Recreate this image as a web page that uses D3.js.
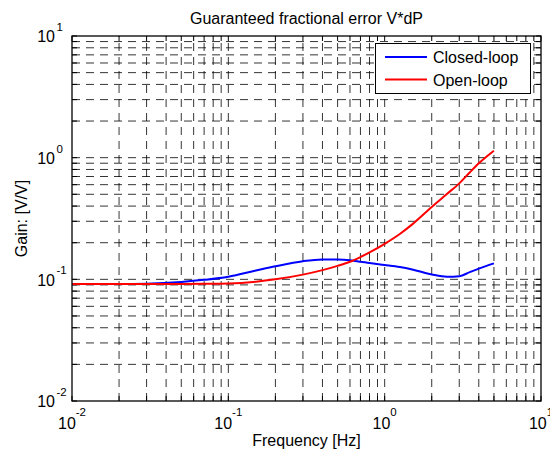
<!DOCTYPE html>
<html>
<head>
<meta charset="utf-8">
<script src="https://cdn.jsdelivr.net/npm/d3@7"></script>
<style>
  html, body { margin: 0; padding: 0; background: #fff; }
  svg { display: block; }
  text { font-family: "Liberation Sans", Arial, Helvetica, sans-serif; fill: #000; }
</style>
</head>
<body>
<svg id="chart" width="550" height="453"></svg>
<script>
// ---- Data ----
const title = "Guaranteed fractional error V*dP";
const xLabel = "Frequency [Hz]";
const yLabel = "Gain: [V/V]";
const seriesNames = ["Closed-loop", "Open-loop"];
const seriesColors = ["#0000ff", "#ff0000"];

const freq = [0.01, 0.02, 0.03, 0.05, 0.07, 0.1, 0.15, 0.2, 0.3, 0.4, 0.5, 0.6, 0.7, 0.8, 1.0, 1.25, 1.5, 2.0, 2.5, 3.0, 3.5, 4.0, 5.0];
const closedLoop = [0.0915, 0.0915, 0.0921, 0.0952, 0.0990, 0.1050, 0.1180, 0.1280, 0.1410, 0.1456, 0.1455, 0.1435, 0.1397, 0.1360, 0.1312, 0.1262, 0.1205, 0.1097, 0.1050, 0.1060, 0.1145, 0.1225, 0.1353];
const openLoop   = [0.0915, 0.0915, 0.0915, 0.0917, 0.0920, 0.0925, 0.0956, 0.1000, 0.1093, 0.1190, 0.1290, 0.1394, 0.1525, 0.1665, 0.1960, 0.2360, 0.2830, 0.3940, 0.5030, 0.6150, 0.7560, 0.8980, 1.1400];

const xTickExps = [-2, -1, 0, 1];
const yTickExps = [-2, -1, 0, 1];

// ---- Layout ----
const L = 72, R = 541, T = 36, B = 401;
const svg = d3.select("#chart");

const x = d3.scaleLog().domain([0.01, 10]).range([L, R]);
const y = d3.scaleLog().domain([0.01, 10]).range([B, T]);

// minor + major grid values
const gridVals = [];
for (let e = -2; e <= 0; e++) {
  for (let m = 1; m <= 9; m++) gridVals.push(m * Math.pow(10, e));
}
gridVals.push(10);

// grid lines
const grid = svg.append("g").attr("class", "grid")
  .attr("stroke", "#000").attr("stroke-width", 0.8).attr("stroke-dasharray", "8,6");
grid.selectAll("line.v").data(gridVals.filter(v => v > 0.01 && v < 10)).join("line")
  .attr("class", "v")
  .attr("x1", d => x(d)).attr("x2", d => x(d))
  .attr("y1", B).attr("y2", T);
grid.selectAll("line.h").data(gridVals.filter(v => v > 0.01 && v < 10)).join("line")
  .attr("class", "h")
  .attr("y1", d => y(d)).attr("y2", d => y(d))
  .attr("x1", L).attr("x2", R);

// ticks inside on all four sides
const tl = 5;
const ticks = svg.append("g").attr("stroke", "#000").attr("stroke-width", 1);
gridVals.forEach(v => {
  ticks.append("line").attr("x1", x(v)).attr("x2", x(v)).attr("y1", B).attr("y2", B - tl);
  ticks.append("line").attr("x1", x(v)).attr("x2", x(v)).attr("y1", T).attr("y2", T + tl);
  ticks.append("line").attr("y1", y(v)).attr("y2", y(v)).attr("x1", L).attr("x2", L + tl);
  ticks.append("line").attr("y1", y(v)).attr("y2", y(v)).attr("x1", R).attr("x2", R - tl);
});

// curves
const line = d3.line().x(d => x(d[0])).y(d => y(d[1])).curve(d3.curveMonotoneX);
[closedLoop, openLoop].forEach((vals, i) => {
  svg.append("path")
    .datum(freq.map((f, k) => [f, vals[k]]))
    .attr("fill", "none")
    .attr("stroke", seriesColors[i])
    .attr("stroke-width", 2)
    .attr("d", line);
});

// frame
svg.append("rect").attr("x", L).attr("y", T).attr("width", R - L).attr("height", B - T)
  .attr("fill", "none").attr("stroke", "#000").attr("stroke-width", 1.3);

// x tick labels
xTickExps.forEach(e => {
  const t = svg.append("text").attr("x", x(Math.pow(10, e))).attr("y", 429)
    .attr("text-anchor", "middle").attr("font-size", 16);
  t.append("tspan").text("10");
  t.append("tspan").attr("dy", -13).attr("font-size", 11.5).text(String(e));
});

// y tick labels
yTickExps.forEach(e => {
  const yy = y(Math.pow(10, e));
  svg.append("text").attr("x", 55).attr("y", yy + 6.3)
    .attr("text-anchor", "end").attr("font-size", 16).text("10");
  svg.append("text").attr("x", 56.5).attr("y", yy - 5)
    .attr("text-anchor", "start").attr("font-size", 11.5).text(String(e));
});

// title and axis labels
svg.append("text").attr("x", (L + R) / 2).attr("y", 24)
  .attr("text-anchor", "middle").attr("font-size", 16).text(title);
svg.append("text").attr("x", (L + R) / 2).attr("y", 446)
  .attr("text-anchor", "middle").attr("font-size", 16).text(xLabel);
svg.append("text").attr("transform", `translate(27,${(T + B) / 2}) rotate(-90)`)
  .attr("text-anchor", "middle").attr("font-size", 16).text(yLabel);

// legend
const lg = svg.append("g");
lg.append("rect").attr("x", 375.5).attr("y", 43.5).attr("width", 155).attr("height", 50)
  .attr("fill", "#fff").attr("stroke", "#000").attr("stroke-width", 1);
seriesNames.forEach((name, i) => {
  const ly = 57 + i * 22.5;
  lg.append("line").attr("x1", 385).attr("x2", 427).attr("y1", ly).attr("y2", ly)
    .attr("stroke", seriesColors[i]).attr("stroke-width", 2);
  lg.append("text").attr("x", 433).attr("y", ly + 6).attr("font-size", 16).text(name);
});
</script>
</body>
</html>
